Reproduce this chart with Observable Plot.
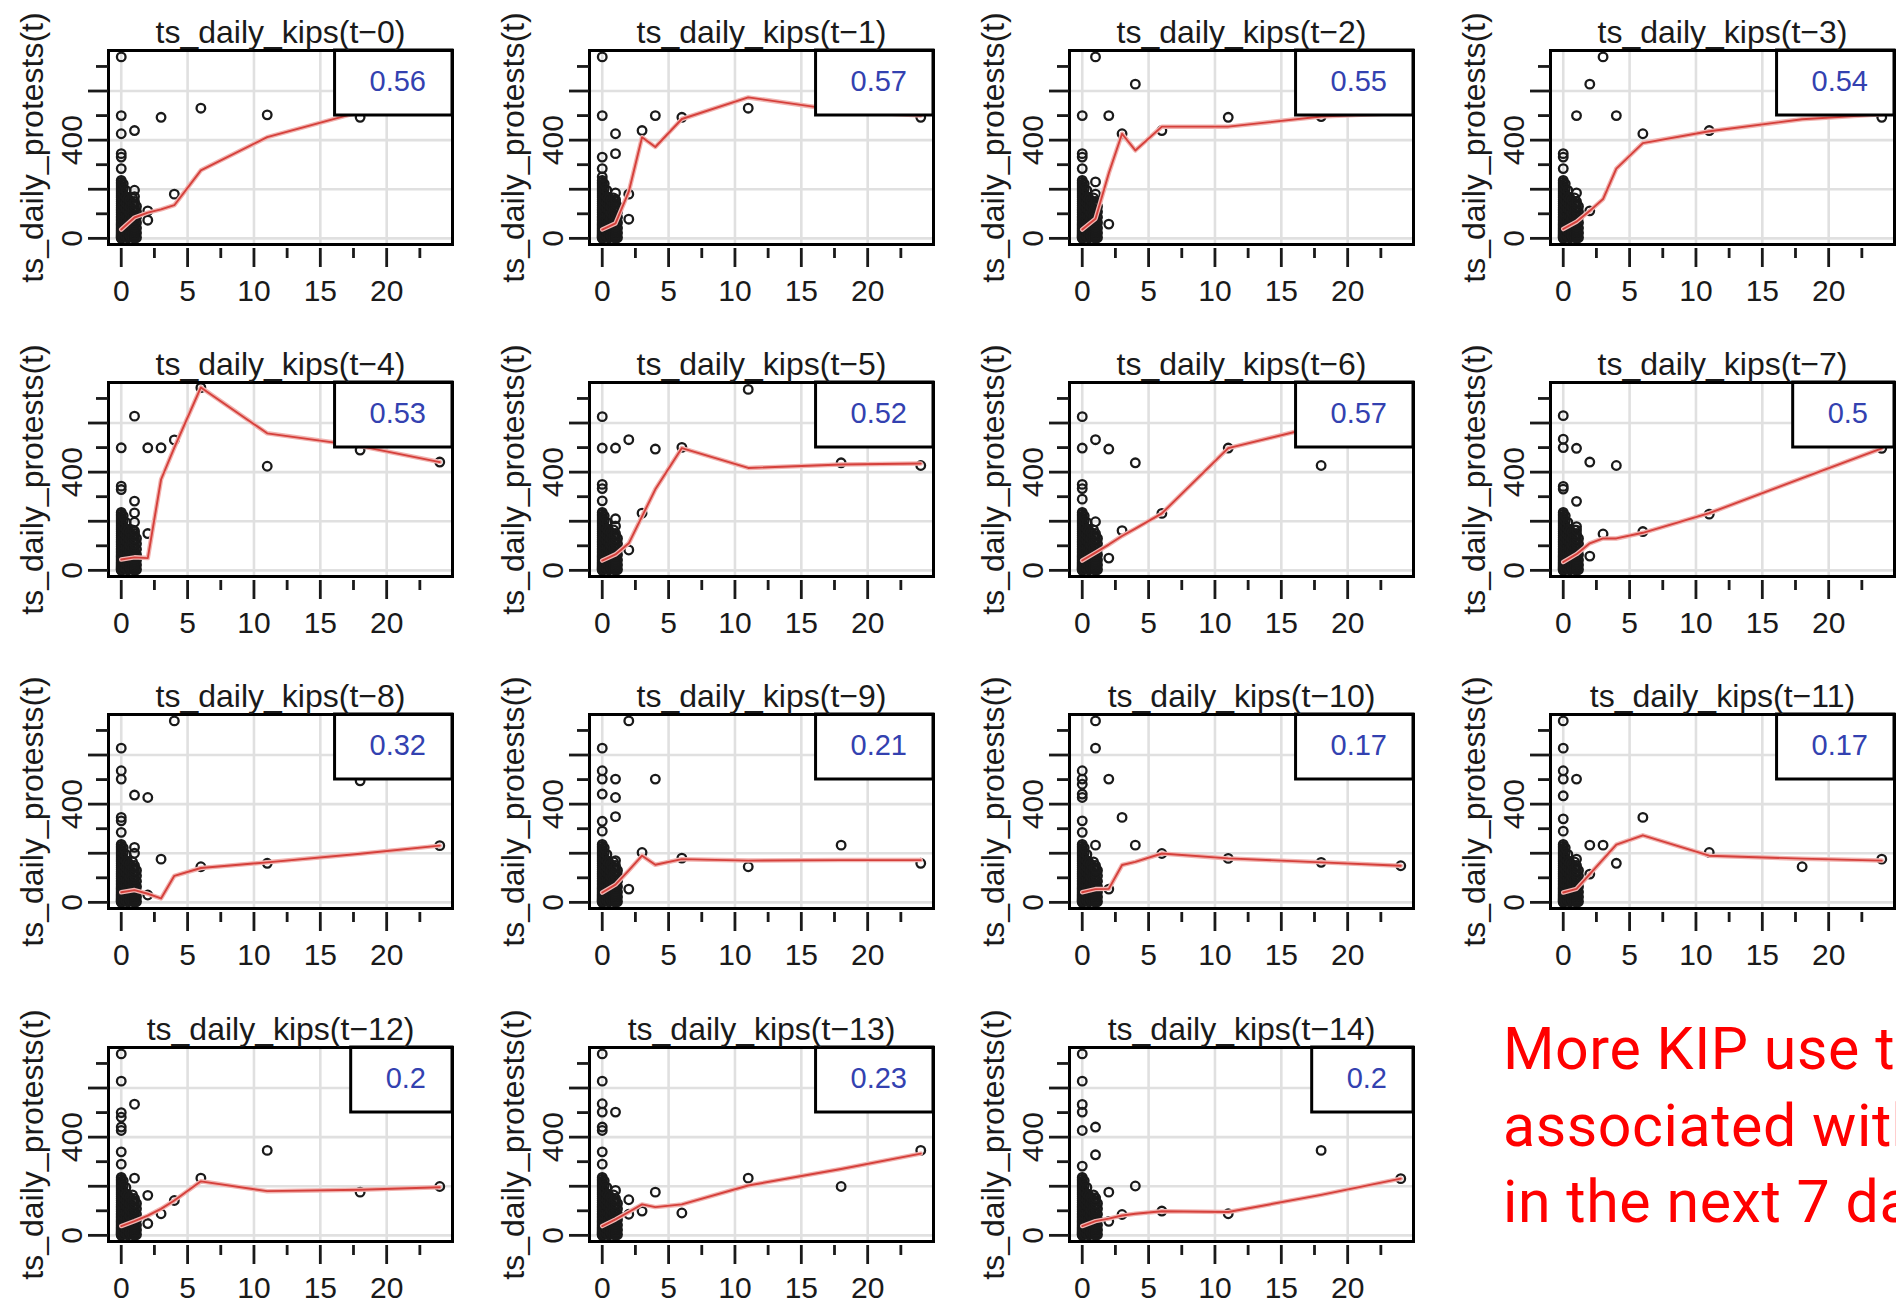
<!DOCTYPE html>
<html>
<head>
<meta charset="utf-8">
<script src="https://cdn.jsdelivr.net/npm/d3@7"></script>
<script src="https://cdn.jsdelivr.net/npm/@observablehq/plot@0.6"></script>
<style>
  html, body { margin: 0; padding: 0; background: #fff; overflow: hidden; }
  #page { position: relative; width: 1896px; height: 1305px; overflow: hidden; background: #fff; }
  .panel { position: absolute; }
  .note {
    position: absolute; left: 1503px; top: 1011px;
    font-family: Roboto, "Noto Sans", sans-serif; font-size: 59px; line-height: 76.5px;
    letter-spacing: 0.6px; color: #ff0000; white-space: nowrap;
  }
</style>
</head>
<body>
<div id="page"></div>
<script>
// Lags of daily KIP counts and the correlation printed in each panel
const lags = [0, 1, 2, 3, 4, 5, 6, 7, 8, 9, 10, 11, 12, 13, 14];
const correlations = [0.56, 0.57, 0.55, 0.54, 0.53, 0.52, 0.57, 0.5, 0.32, 0.21, 0.17, 0.17, 0.2, 0.23, 0.2];

// Axis ticks and grid positions
const xMajorTicks = [0, 5, 10, 15, 20];
const xMinorTicks = [2.5, 7.5, 12.5, 17.5, 22.5];
const yMajorTicks = [0, 200, 400, 600];
const yMinorTicks = [100, 300, 500, 700];
const yTickLabels = [0, 400];

// Dense low-KIP days (shared by every lag): protests on days with 0, fractional and 1 KIPs
const protestsAtKips0 = [0, 3, 6, 9, 12, 15, 19, 23, 27, 31, 35, 40, 45, 50, 55, 60, 66, 72, 78, 84, 90, 97, 104,
  111, 118, 125, 133, 141, 149, 157, 165, 173, 181, 189, 197, 205, 213, 221, 229, 236];
const protestsAtKipsFrac = [
  [0.15, 4], [0.15, 20], [0.15, 38], [0.15, 56], [0.15, 75], [0.15, 95], [0.15, 115], [0.15, 136], [0.15, 158], [0.15, 180], [0.15, 202], [0.15, 222],
  [0.35, 8], [0.35, 28], [0.35, 50], [0.35, 72], [0.35, 96], [0.35, 120], [0.35, 145], [0.35, 170], [0.35, 195],
  [0.5, 2], [0.5, 22], [0.5, 44], [0.5, 66], [0.5, 90], [0.5, 114], [0.5, 138], [0.5, 162],
  [0.65, 10], [0.65, 32], [0.65, 55], [0.65, 80], [0.65, 105], [0.65, 130], [0.65, 155],
  [0.85, 5], [0.85, 25], [0.85, 46], [0.85, 68], [0.85, 92], [0.85, 116], [0.85, 140], [0.85, 165],
  [1.15, 3], [1.15, 22], [1.15, 42], [1.15, 64], [1.15, 86], [1.15, 108], [1.15, 130]];
const protestsAtKips1 = [0, 5, 11, 17, 24, 31, 39, 47, 56, 65, 75, 85, 96, 107, 118, 129, 140, 150];

// Remaining (kips, protests) points for each lag
const points_t0 = [[0,739],[0,500],[0,426],[0,345],[0,331],[0,284],[1,439],[1,196],[1,170],[2,112],[2,74],[3,493],[4,180],[6,530],[11,503],[18,493]];
const points_t1 = [[0,739],[0,500],[0,331],[0,284],[0,250],[1,426],[1,345],[1,185],[1,158],[2,180],[2,78],[3,439],[4,500],[6,493],[11,530],[24,493]];
const points_t2 = [[1,739],[4,628],[0,500],[2,500],[3,426],[6,439],[11,493],[18,496],[0,345],[0,331],[0,284],[1,230],[1,180],[2,58]];
const points_t3 = [[3,739],[2,628],[1,500],[4,500],[6,426],[11,439],[24,493],[0,345],[0,331],[0,284],[1,185],[2,112]];
const points_t4 = [[6,744],[1,628],[0,499],[2,499],[3,499],[4,531],[11,424],[18,490],[24,441],[0,343],[0,329],[1,282],[1,234],[1,196],[1,160],[2,150]];
const points_t5 = [[11,737],[0,626],[0,498],[1,498],[2,532],[4,494],[6,501],[18,438],[24,427],[3,233],[2,83],[0,350],[0,333],[0,283],[1,210],[1,180]];
const points_t6 = [[0,626],[0,498],[1,532],[2,494],[4,438],[11,498],[18,427],[6,232],[3,162],[2,50],[1,198],[0,350],[0,333],[0,290]];
const points_t7 = [[0,630],[0,534],[0,500],[1,497],[2,441],[4,427],[0,342],[0,331],[1,281],[1,178],[1,164],[2,58],[3,148],[6,158],[11,229],[24,497]];
const points_t8 = [[4,739],[0,628],[0,536],[0,502],[1,437],[2,427],[18,495],[24,231],[3,176],[6,145],[11,159],[2,30],[0,346],[0,332],[0,285],[1,224],[1,200]];
const points_t9 = [[2,739],[0,628],[0,536],[0,502],[1,502],[1,427],[0,441],[1,349],[4,502],[3,203],[6,180],[11,145],[18,233],[24,159],[2,54],[1,170],[0,330],[0,290]];
const points_t10 = [[1,739],[1,628],[2,502],[0,536],[0,502],[0,481],[0,441],[0,427],[3,346],[0,332],[0,285],[4,233],[1,233],[1,136],[6,199],[11,179],[18,163],[24,149],[2,54]];
const points_t11 = [[0,739],[0,628],[0,536],[0,502],[0,434],[1,502],[0,340],[0,290],[6,346],[2,233],[3,233],[4,159],[1,176],[2,115],[11,203],[18,145],[24,176]];
const points_t12 = [[0,739],[0,628],[1,534],[0,500],[0,481],[0,441],[0,427],[0,340],[0,290],[11,346],[6,233],[1,233],[24,199],[18,176],[2,163],[4,142],[3,88],[2,48]];
const points_t13 = [[0,739],[0,628],[0,536],[0,502],[1,502],[0,441],[0,427],[0,340],[0,290],[24,346],[11,233],[18,199],[4,176],[2,145],[2,86],[3,99],[6,91],[1,183]];
const points_t14 = [[0,739],[0,628],[0,533],[0,502],[0,427],[1,441],[1,328],[0,282],[18,346],[24,231],[4,201],[2,176],[6,99],[3,85],[11,88],[2,57],[1,153]];

// Lowess fit evaluated at each distinct KIP count, per lag
const fit_t0 = [[0,36],[1,85],[2,105],[3,118],[4,135],[6,277],[11,412],[18,515],[24,590]];
const fit_t1 = [[0,36],[1,61],[2,190],[3,412],[4,372],[6,486],[11,574],[18,520],[24,500]];
const fit_t2 = [[0,36],[1,80],[2,265],[3,426],[4,358],[6,455],[11,455],[18,496],[24,510]];
const fit_t3 = [[0,38],[1,68],[2,112],[3,160],[4,284],[6,388],[11,436],[18,485],[24,505]];
const fit_t4 = [[0,44],[1,53],[2,50],[3,370],[4,500],[6,745],[11,558],[18,506],[24,441]];
const fit_t5 = [[0,40],[1,65],[2,110],[3,220],[4,330],[6,498],[11,417],[18,431],[24,435]];
const fit_t6 = [[0,40],[1,72],[2,105],[3,140],[4,170],[6,232],[11,498],[18,590],[24,660]];
const fit_t7 = [[0,34],[1,66],[2,110],[3,130],[4,130],[6,153],[11,233],[18,376],[24,497]];
const fit_t8 = [[0,41],[1,50],[2,35],[3,16],[4,108],[6,140],[11,163],[18,198],[24,231]];
const fit_t9 = [[0,40],[1,72],[2,130],[3,190],[4,153],[6,176],[11,170],[18,172],[24,172]];
const fit_t10 = [[0,41],[1,54],[2,55],[3,152],[4,165],[6,199],[11,179],[18,163],[24,149]];
const fit_t11 = [[0,40],[1,55],[2,115],[3,175],[4,235],[6,273],[11,190],[18,178],[24,170]];
const fit_t12 = [[0,38],[1,58],[2,80],[3,108],[4,142],[6,220],[11,180],[18,186],[24,196]];
const fit_t13 = [[0,38],[1,65],[2,95],[3,126],[4,115],[6,126],[11,203],[18,270],[24,333]];
const fit_t14 = [[0,38],[1,58],[2,68],[3,81],[4,88],[6,98],[11,95],[18,165],[24,231]];

const pointsByLag = [points_t0, points_t1, points_t2, points_t3, points_t4, points_t5, points_t6, points_t7,
  points_t8, points_t9, points_t10, points_t11, points_t12, points_t13, points_t14];
const fitByLag = [fit_t0, fit_t1, fit_t2, fit_t3, fit_t4, fit_t5, fit_t6, fit_t7,
  fit_t8, fit_t9, fit_t10, fit_t11, fit_t12, fit_t13, fit_t14];

const FONT = "'Liberation Sans', Arial, Helvetica, sans-serif";
const INK = "#1a1a1a";
const RED = "#d5403b";
const BLUE = "#3341b0";

// Boxed correlation value in the top-right corner of the panel
function valueBox(text) {
  return (index, scales, values, dims) => {
    const fs = 29;
    const w = [...text].reduce((s, c) => s + (c === "." ? 0.278 : 0.556), 0) * fs;
    const bw = w + 61, bh = 65;
    const right = dims.width - dims.marginRight, top = dims.marginTop;
    const g = d3.create("svg:g");
    g.append("rect").attr("x", right - bw).attr("y", top).attr("width", bw).attr("height", bh)
      .attr("fill", "#fff").attr("stroke", "#000").attr("stroke-width", 3);
    g.append("text").attr("x", right - 26).attr("y", top + 41).attr("text-anchor", "end")
      .attr("fill", BLUE).attr("font-size", fs).attr("font-family", FONT).text(text);
    return g.node();
  };
}

function panel(lag, pts, fit, r) {
  const dots = [
    ...protestsAtKips0.map(y => ({x: 0, y})),
    ...protestsAtKipsFrac.map(([x, y]) => ({x, y})),
    ...protestsAtKips1.map(y => ({x: 1, y})),
    ...pts.map(([x, y]) => ({x, y}))
  ];
  const fitRows = fit.map(([x, y]) => ({x, y}));
  return Plot.plot({
    width: 481, height: 332,
    marginLeft: 108, marginRight: 29, marginTop: 50, marginBottom: 88,
    x: {domain: [-0.96, 24.96], axis: null},
    y: {domain: [-25, 765], axis: null},
    style: {fontFamily: FONT, background: "transparent", overflow: "visible", color: INK},
    marks: [
      Plot.ruleX(xMajorTicks, {stroke: "#e0e0e0", strokeWidth: 2.6}),
      Plot.ruleY(yMajorTicks, {stroke: "#e0e0e0", strokeWidth: 2.6}),
      Plot.dot(dots, {x: "x", y: "y", r: 4.3, stroke: INK, strokeWidth: 2.3, fill: "none"}),
      Plot.line(fitRows, {x: "x", y: "y", stroke: "#f1b3b0", strokeWidth: 4.5}),
      Plot.line(fitRows, {x: "x", y: "y", stroke: RED, strokeWidth: 1.9}),
      valueBox(String(r)),
      Plot.frame({stroke: "#000", strokeWidth: 3}),
      Plot.axisX(xMajorTicks, {anchor: "bottom", tickSize: 19, tickPadding: 12, dy: 4,
        fontSize: 30, strokeWidth: 2.8, label: null}),
      Plot.axisX(xMinorTicks, {anchor: "bottom", tickSize: 10, dy: 4, tickFormat: () => "",
        strokeWidth: 2.8, label: null}),
      Plot.axisY(yMajorTicks, {anchor: "left", tickSize: 20, tickFormat: () => "", strokeWidth: 2.8, label: null}),
      Plot.axisY(yMinorTicks, {anchor: "left", tickSize: 12, tickFormat: () => "", strokeWidth: 2.8, label: null}),
      Plot.text(yTickLabels, {y: d => d, text: d => String(d), frameAnchor: "left", dx: -36,
        rotate: -90, fontSize: 30, textAnchor: "middle", lineAnchor: "middle", fill: INK}),
      Plot.text(["ts_daily_protests(t)"], {frameAnchor: "left", dx: -76, rotate: -90,
        fontSize: 32, textAnchor: "middle", lineAnchor: "middle", fill: INK}),
      Plot.text([`ts_daily_kips(t\u2212${lag})`], {frameAnchor: "top", dy: -8, lineAnchor: "bottom",
        fontSize: 32, fill: INK})
    ]
  });
}

const page = document.getElementById("page");
lags.forEach((lag, i) => {
  const col = i % 4, row = Math.floor(i / 4);
  const el = panel(lag, pointsByLag[i], fitByLag[i], correlations[i]);
  el.classList.add("panel");
  el.style.left = `${col * 480.7}px`;
  el.style.top = `${row * 332.2}px`;
  page.appendChild(el);
});

const note = document.createElement("div");
note.className = "note";
note.innerHTML = "More KIP use today<br>associated with<br>in the next 7 days";
page.appendChild(note);
</script>
</body>
</html>
